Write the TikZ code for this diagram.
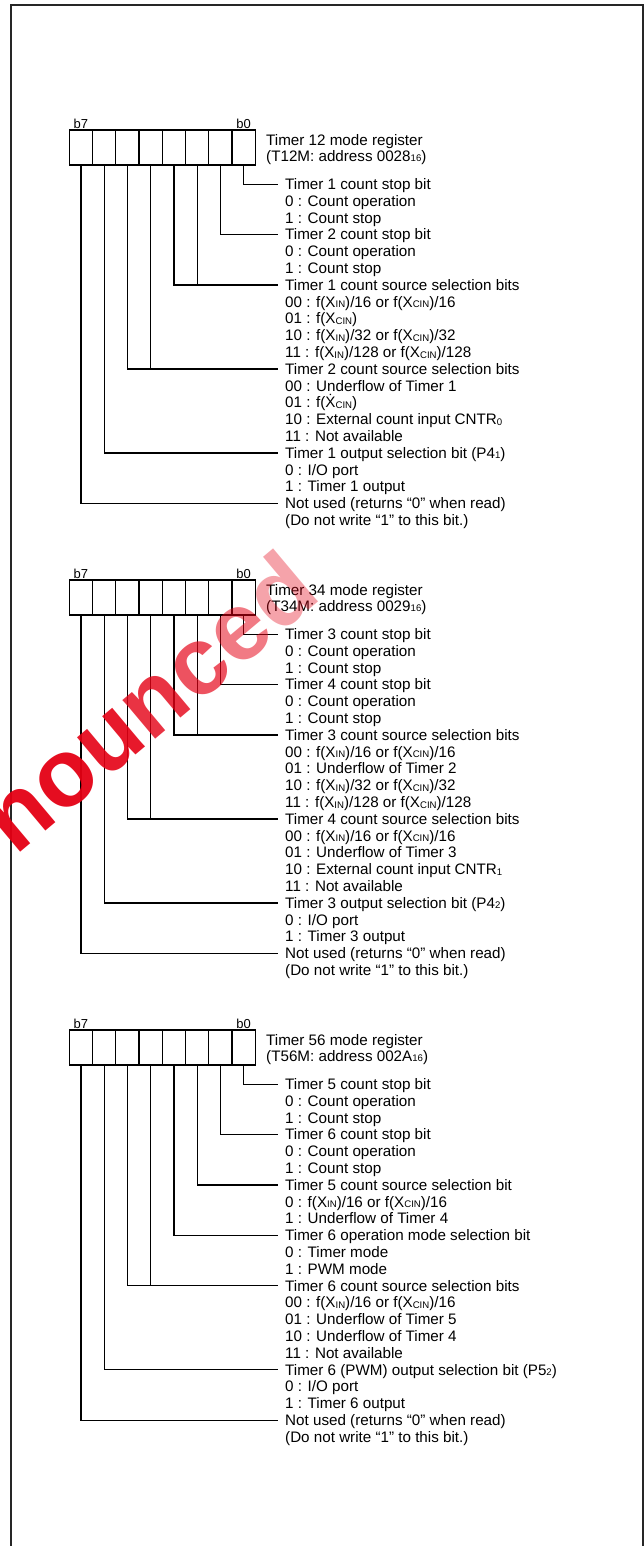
\documentclass[tikz,border=0pt]{standalone}
\usepackage{fontspec}
\setmainfont{Liberation Sans}
\usetikzlibrary{calc}
\newcommand\lo[1]{\raisebox{-0.6pt}{\fontsize{9.6}{9.6}\selectfont #1}}
\definecolor{wmred}{RGB}{228,0,20}
\tikzset{
  txt/.style={anchor=west,inner sep=0pt,text height=10.6pt,text depth=0pt,font=\fontsize{15.2}{16.8}\selectfont},
  cell/.style={minimum width=23.25pt,minimum height=35pt,inner sep=0pt,outer sep=0pt},
  boxline/.style={line width=1.3pt},
  lead/.style={line width=1.3pt},
  bitlbl/.style={anchor=base,inner sep=0pt,font=\fontsize{13}{13}\selectfont},
  frame/.style={line width=2pt,draw=black!85},
  wm/.style={rotate=40,inner sep=0pt,anchor=base west,text=wmred,font=\fontsize{96}{96}\selectfont\bfseries},
}
\newcommand\register[4]{%
  \foreach \b in {0,...,7} {\node[cell] (#1c\b) at ({80.9+23.25*(7-\b)}, {#2+17.5}) {};}
  \draw[boxline] (#1c7.north west) rectangle (#1c0.south east);
  \foreach \b in {1,...,7} {\draw[boxline] (#1c\b.north east) -- (#1c\b.south east);}
  \node[bitlbl] (#1b7) at (80.9, {#2-1.5}) {b7};
  \node[bitlbl] (#1b0) at (243.7, {#2-1.5}) {b0};
  \node[txt] (#1t1) at (266, {#2+10.2}) {#3};
  \node[txt] (#1t2) at (266, {#2+26}) {#4};
}
\newcommand\reglines[3]{%
  \foreach \s [count=\k from 0] in {#3} {\node[txt] (#1l\k) at (285, {#2+54.2+16.8*\k}) {\s};}
}
\newcommand\leadone[3]{\draw[lead] (#1c#2.south) |- ([xshift=-7pt]#1l#3.west);}
\newcommand\leadtwo[4]{\draw[lead] (#1c#2.south) |- ([xshift=-7pt]#1l#4.west);
  \draw[lead] (#1c#3.south) -- (#1c#3.south |- #1l#4.west);}
\begin{document}
\begin{tikzpicture}[x=1pt,y=-1pt]
\useasboundingbox (0,0) rectangle (644,1546);
\draw[frame] (10.5,1550) -- (10.5,5) -- (643,5) -- (643,1550);

% Register 1
\register{r1}{130}{Timer 12 mode register}{(T12M: address 0028\lo{16})}
\reglines{r1}{130}{
  {Timer 1 count stop bit},
  {0 : Count operation},
  {1 : Count stop},
  {Timer 2 count stop bit},
  {0 : Count operation},
  {1 : Count stop},
  {Timer 1 count source selection bits},
  {00 : f(X\lo{IN})/16 or f(X\lo{CIN})/16},
  {01 : f(X\lo{CIN})},
  {10 : f(X\lo{IN})/32 or f(X\lo{CIN})/32},
  {11 : f(X\lo{IN})/128 or f(X\lo{CIN})/128},
  {Timer 2 count source selection bits},
  {00 : Underflow of Timer 1},
  {01 : f(\.{X}\lo{CIN})},
  {10 : External count input CNTR\lo{0}},
  {11 : Not available},
  {Timer 1 output selection bit (P4\lo{1})},
  {0 : I/O port},
  {1 : Timer 1 output},
  {Not used (returns “0” when read)},
  {(Do not write “1” to this bit.)}}
\leadone{r1}{0}{0}
\leadone{r1}{1}{3}
\leadtwo{r1}{3}{2}{6}
\leadtwo{r1}{5}{4}{11}
\leadone{r1}{6}{16}
\leadone{r1}{7}{19}

% Register 2
\register{r2}{580}{Timer 34 mode register}{(T34M: address 0029\lo{16})}
\reglines{r2}{580}{
  {Timer 3 count stop bit},
  {0 : Count operation},
  {1 : Count stop},
  {Timer 4 count stop bit},
  {0 : Count operation},
  {1 : Count stop},
  {Timer 3 count source selection bits},
  {00 : f(X\lo{IN})/16 or f(X\lo{CIN})/16},
  {01 : Underflow of Timer 2},
  {10 : f(X\lo{IN})/32 or f(X\lo{CIN})/32},
  {11 : f(X\lo{IN})/128 or f(X\lo{CIN})/128},
  {Timer 4 count source selection bits},
  {00 : f(X\lo{IN})/16 or f(X\lo{CIN})/16},
  {01 : Underflow of Timer 3},
  {10 : External count input CNTR\lo{1}},
  {11 : Not available},
  {Timer 3 output selection bit (P4\lo{2})},
  {0 : I/O port},
  {1 : Timer 3 output},
  {Not used (returns “0” when read)},
  {(Do not write “1” to this bit.)}}
\leadone{r2}{0}{0}
\leadone{r2}{1}{3}
\leadtwo{r2}{3}{2}{6}
\leadtwo{r2}{5}{4}{11}
\leadone{r2}{6}{16}
\leadone{r2}{7}{19}

% Register 3
\register{r3}{1030}{Timer 56 mode register}{(T56M: address 002A\lo{16})}
\reglines{r3}{1030}{
  {Timer 5 count stop bit},
  {0 : Count operation},
  {1 : Count stop},
  {Timer 6 count stop bit},
  {0 : Count operation},
  {1 : Count stop},
  {Timer 5 count source selection bit},
  {0 : f(X\lo{IN})/16 or f(X\lo{CIN})/16},
  {1 : Underflow of Timer 4},
  {Timer 6 operation mode selection bit},
  {0 : Timer mode},
  {1 : PWM mode},
  {Timer 6 count source selection bits},
  {00 : f(X\lo{IN})/16 or f(X\lo{CIN})/16},
  {01 : Underflow of Timer 5},
  {10 : Underflow of Timer 4},
  {11 : Not available},
  {Timer 6 (PWM) output selection bit (P5\lo{2})},
  {0 : I/O port},
  {1 : Timer 6 output},
  {Not used (returns “0” when read)},
  {(Do not write “1” to this bit.)}}
\leadone{r3}{0}{0}
\leadone{r3}{1}{3}
\leadone{r3}{2}{6}
\leadone{r3}{3}{9}
\leadtwo{r3}{5}{4}{12}
\leadone{r3}{6}{17}
\leadone{r3}{7}{20}

% watermark (semi-transparent, fading towards the upper right)
\node[wm,text opacity=0.95] (w1) at (15,857) {n};
\node[wm,text opacity=0.95] (w2) at (w1.base east) {o};
\node[wm,text opacity=0.9] (w3) at (w2.base east) {u};
\node[wm,text opacity=0.8] (w4) at (w3.base east) {n};
\node[wm,text opacity=0.68] (w5) at (w4.base east) {c};
\node[wm,text opacity=0.52] (w6) at (w5.base east) {e};
\node[wm,text opacity=0.36] (w7) at (w6.base east) {d};
\end{tikzpicture}
\end{document}
